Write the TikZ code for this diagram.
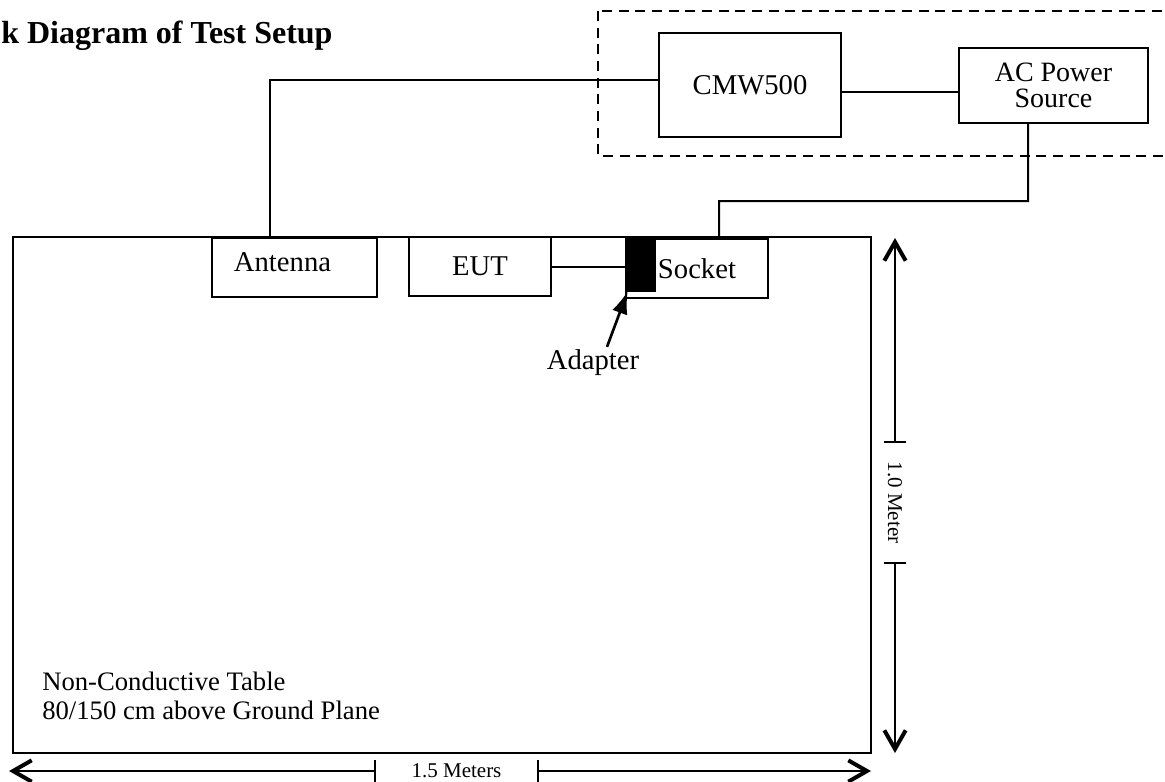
\documentclass[tikz,border=0pt]{standalone}
\usepackage{fontspec}
\setmainfont{Liberation Serif}
\usepackage{tikz}
\usetikzlibrary{arrows.meta,positioning,calc}
\definecolor{ink}{HTML}{000000}
\tikzset{
  devbox/.style={draw=ink,line width=1.5pt,inner sep=0pt,align=center,
                 font=\fontsize{21.5}{24}\selectfont},
  wire/.style={draw=ink,line width=1.5pt},
  dimarr/.style={{Bar[width=16.5pt,line width=1.1pt]}-{Straight Barb[length=14pt,width=16pt,line width=3pt 0]},
                 line width=1.1pt},
  pointer/.style={-{Latex[length=17pt,width=12pt]},line width=2pt},
  dimlabel/.style={inner ysep=0pt,font=\fontsize{15.75}{18}\selectfont},
  tablenote/.style={align=left,inner sep=0pt,font=\fontsize{20}{21.75}\selectfont}
}

\begin{document}
\begin{tikzpicture}[x=0.75pt,y=-0.75pt]
  \useasboundingbox (0,0) rectangle (1165,782);
  \node[anchor=base west,inner sep=0pt,font=\fontsize{24}{28}\selectfont\bfseries] (title) at (1,43) {k Diagram of Test Setup};

  % remote equipment behind the dashed boundary
  \draw[ink,line width=1.5pt,dash pattern=on 7.5pt off 5pt] (598,11) rectangle (1185,156);
  \node[devbox,minimum width=136.5pt,minimum height=78pt] (cmw) at (750,85) {CMW500};
  \node[devbox,minimum width=141.75pt,minimum height=56.25pt,font=\fontsize{21}{19.5}\selectfont] (acsrc) at (1053.5,85.5) {AC Power\\Source};

  % table and what sits on it
  \node[draw=ink,line width=1.5pt,inner sep=0pt,minimum width=643.5pt,minimum height=387pt] (tbl) at (442,495) {};
  \node[tablenote,anchor=west] (tbltxt) at (42,695.5) {Non-Conductive Table\\80/150 cm above Ground Plane};
  \node[devbox,minimum width=123.75pt,minimum height=44.25pt,
        label={[xshift=-9pt,yshift=4pt,font=\fontsize{21.5}{24}\selectfont]center:Antenna}] (ant) at (294.5,267.5) {};
  \node[devbox,minimum width=106.5pt,minimum height=44.25pt] (eut) at (480,266.5) {EUT};
  \node[devbox,minimum width=106.5pt,minimum height=44.25pt] (sock) at (697,268.5) {Socket};
  \node[fill=ink,draw=ink,inner sep=0pt,minimum width=21.75pt,minimum height=40.5pt] (adp) at (640.5,264) {};
  \node[anchor=base,inner sep=0pt,font=\fontsize{21.5}{24}\selectfont] (adptxt) at (593,369) {Adapter};
  \draw[pointer] ([xshift=10.5pt,yshift=1.5pt]adptxt.north) -- ([xshift=1.5pt]adp.south west);

  % cabling
  \draw[wire] ([yshift=3.75pt]cmw.west) -| ([xshift=-18.4pt]ant.north);
  \coordinate (cmwout) at ([yshift=-5.25pt]cmw.east);
  \draw[wire] (cmwout) -- (cmwout -| acsrc.west);
  \coordinate (acdrop) at ([xshift=-19.1pt]acsrc.south);
  \coordinate (bend) at (1028,201);
  \draw[wire] (acdrop) -- (bend) -| ([xshift=16.5pt]sock.north);
  \draw[wire] (eut.east) -- (eut.east -| adp.west);

  % dimensions
  \coordinate (vtop) at (895,238);
  \coordinate (vbot) at (895,753);
  \node[dimlabel,rotate=-90,inner xsep=14pt] (hgt) at (895,502.5) {1.0 Meter};
  \draw[dimarr] (hgt.west) -- (vtop);
  \draw[dimarr] (hgt.east) -- (vbot);
  \coordinate (hleft) at (9,771);
  \coordinate (hright) at (871,771);
  \node[dimlabel,inner xsep=26.6pt] (wid) at (456.5,771) {1.5 Meters};
  \draw[dimarr] (wid.west) -- (hleft);
  \draw[dimarr] (wid.east) -- (hright);
\end{tikzpicture}
\end{document}
